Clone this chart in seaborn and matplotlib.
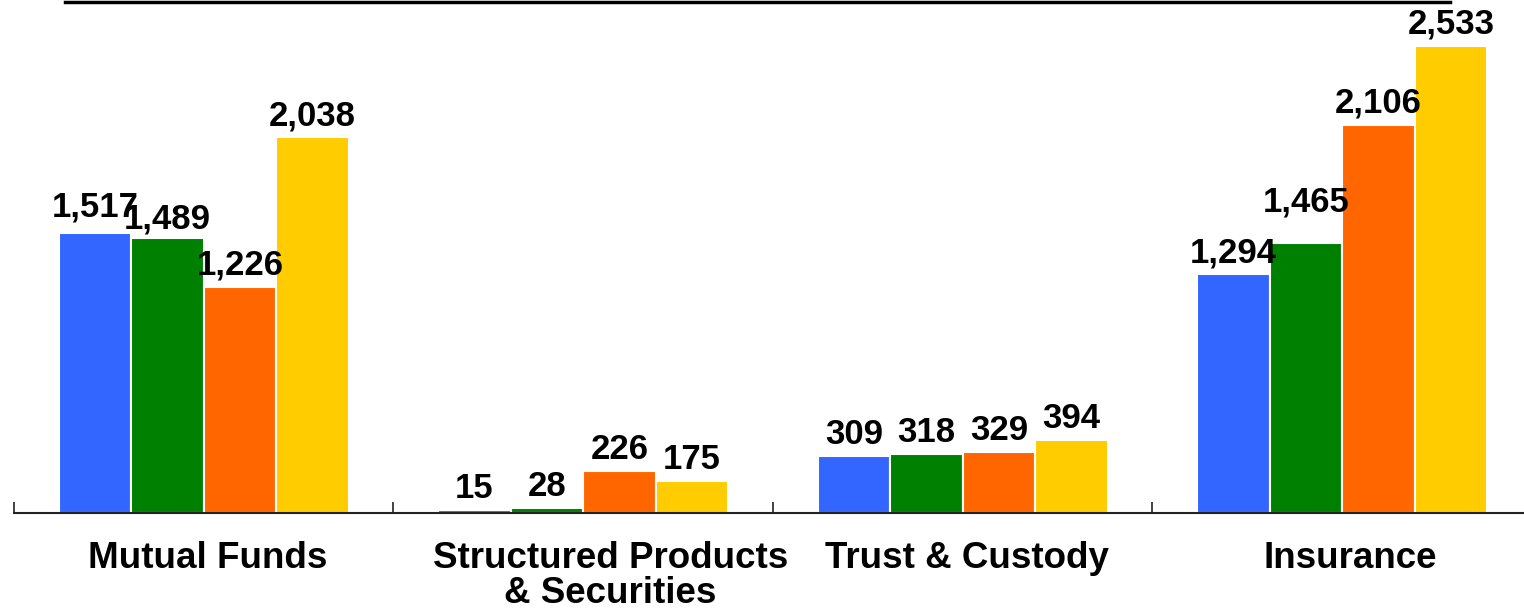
import matplotlib
matplotlib.use("Agg")
import matplotlib.pyplot as plt
import matplotlib.transforms as mtransforms
import seaborn as sns
import pandas as pd
import numpy as np

categories = ["Mutual Funds", "Structured Products\n& Securities", "Trust & Custody", "Insurance"]
series_names = ["Series 1", "Series 2", "Series 3", "Series 4"]
series1 = [1517, 15, 309, 1294]
series2 = [1489, 28, 318, 1465]
series3 = [1226, 226, 329, 2106]
series4 = [2038, 175, 394, 2533]
colors = ["#3366FF", "#008000", "#FF6600", "#FFCC00"]

all_series = [series1, series2, series3, series4]
rows = []
for name, vals in zip(series_names, all_series):
    for cat, v in zip(categories, vals):
        rows.append({"category": cat, "series": name, "value": v})
df = pd.DataFrame(rows)

sns.set_theme(style="white")
plt.rcParams["font.family"] = ["Liberation Sans", "DejaVu Sans"]

W, H = 1524, 613
fig = plt.figure(figsize=(W / 100, H / 100), dpi=100)
ax = fig.add_axes([14 / W, 100 / H, 1518 / W, 493 / H])

sns.barplot(data=df, x="category", y="value", hue="series", order=categories,
            hue_order=series_names, palette=colors, width=0.765, gap=0,
            edgecolor="white", linewidth=1.5, saturation=1, legend=False, ax=ax)

ax.set_xlim(-0.5, 3.5)
ax.set_ylim(0, 2674)
ax.set_xlabel("")
ax.set_ylabel("")
ax.set_yticks([])
for s in ["top", "left", "right"]:
    ax.spines[s].set_visible(False)
ax.spines["bottom"].set_color("#222222")
ax.spines["bottom"].set_linewidth(1.5)

ax.set_xticks(range(len(categories)))
ax.set_xticklabels(categories, fontsize=26.5, fontweight="bold", linespacing=1.0)
ax.tick_params(axis="x", which="major", length=0, pad=20, colors="black")
ax.set_xticks(np.arange(-0.5, len(categories), 1.0), minor=True)
ax.tick_params(axis="x", which="minor", direction="in", length=8, width=1.2, color="#222222", bottom=True)

label_shift_px = [4, 27, 4, 8]
for lab, dx in zip(ax.get_xticklabels(), label_shift_px):
    lab.set_transform(lab.get_transform() + mtransforms.ScaledTranslation(dx / 100, 0, fig.dpi_scale_trans))

extra_offset = {(1, 3): 19, (0, 0): 5, (1, 0): -2}  # series index, category index -> extra px
for si, cont in enumerate(ax.containers):
    for ci, patch in enumerate(cont):
        val = all_series[si][ci]
        off = (12 + extra_offset.get((si, ci), 0)) * 0.72
        ax.annotate(f"{val:,}", (patch.get_x() + patch.get_width() / 2, patch.get_height()),
                    xytext=(0, off), textcoords="offset points", ha="center", va="baseline",
                    fontsize=25, fontweight="bold", color="black")

# decorative top border (cut-off table)
top = fig.add_axes([65 / W, (H - 2) / H, (1450 - 65) / W, 0.0001])
top.set_xlim(65, 1450)
top.set_yticks([])
for s in ["top", "left", "right"]:
    top.spines[s].set_visible(False)
top.spines["bottom"].set_linewidth(2.5)
top.spines["bottom"].set_color("black")
top.set_xticks([607, 805, 1020, 1233])
top.set_xticklabels([])
top.tick_params(axis="x", direction="out", length=2, width=1.5, color="black")
top.patch.set_alpha(0)

fig.savefig("out.png", dpi=100)
